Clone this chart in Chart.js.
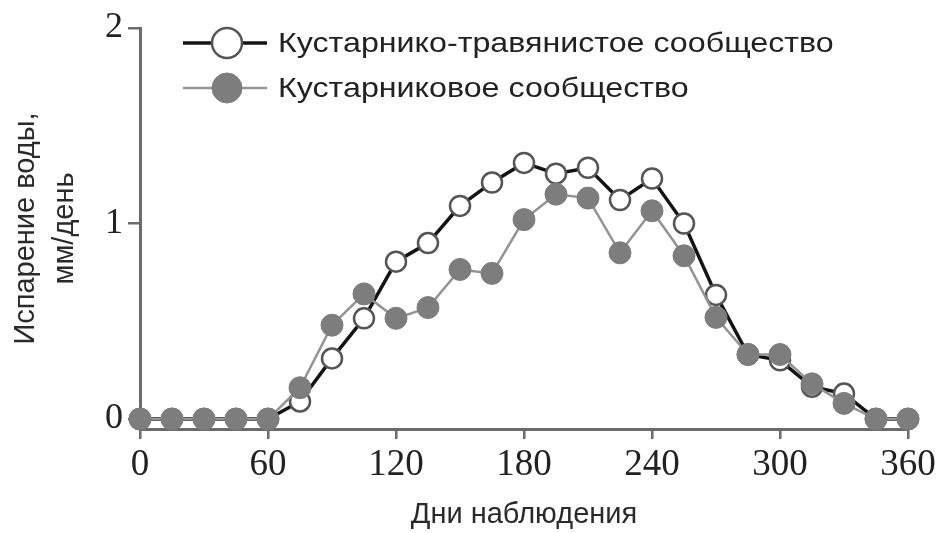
<!DOCTYPE html>
<html>
<head>
<meta charset="utf-8">
<script src="https://cdn.jsdelivr.net/npm/chart.js@4.4.1/dist/chart.umd.min.js"></script>
<style>
  html, body { margin: 0; padding: 0; background: #ffffff; }
  #wrap { width: 946px; height: 533px; position: relative; }
</style>
</head>
<body>
<div id="wrap"><canvas id="c" width="946" height="533"></canvas></div>
<script>
// ---- data ----
const days = [0, 15, 30, 45, 60, 75, 90, 105, 120, 135, 150, 165, 180, 195, 210, 225, 240, 255, 270, 285, 300, 315, 330, 345, 360];
const shrubGrassCommunity = [0, 0, 0, 0, 0, 0.09, 0.31, 0.515, 0.805, 0.90, 1.09, 1.21, 1.31, 1.255, 1.285, 1.12, 1.23, 1.0, 0.635, 0.33, 0.30, 0.165, 0.13, 0, 0];
const shrubCommunity = [0, 0, 0, 0, 0, 0.16, 0.48, 0.64, 0.515, 0.57, 0.765, 0.745, 1.02, 1.15, 1.13, 0.85, 1.065, 0.835, 0.52, 0.33, 0.33, 0.18, 0.08, 0, 0];
const seriesNames = ['Кустарнико-травянистое сообщество', 'Кустарниковое сообщество'];
const xTicks = [0, 60, 120, 180, 240, 300, 360];
const yTicks = [0, 1, 2];
const xTitle = 'Дни наблюдения';
const yTitle = ['Испарение воды,', 'мм/день'];

const AXIS = '#6b6b6b';
const SERIF = "'Liberation Serif', 'Times New Roman', serif";
const SANS = "'Liberation Sans', Arial, sans-serif";

const legendPlugin = {
  id: 'insideLegend',
  afterDraw(chart) {
    const ctx = chart.ctx;
    const a = chart.chartArea;
    const items = [chart.data.datasets[1], chart.data.datasets[0]]; // legend order: black first
    const x0 = a.left + 43, x1 = a.left + 127, cx = a.left + 87;
    const rows = [a.top + 15, a.top + 60];
    ctx.save();
    items.forEach((ds, i) => {
      const y = rows[i];
      ctx.strokeStyle = ds.borderColor;
      ctx.lineWidth = ds.borderWidth;
      ctx.beginPath(); ctx.moveTo(x0, y); ctx.lineTo(x1, y); ctx.stroke();
      ctx.beginPath(); ctx.arc(cx, y, 15, 0, Math.PI * 2);
      ctx.fillStyle = ds.pointBackgroundColor; ctx.fill();
      ctx.lineWidth = ds.pointBorderWidth; ctx.strokeStyle = ds.pointBorderColor; ctx.stroke();
      ctx.save();
      ctx.translate(a.left + 138, y + 1);
      ctx.scale(1.15, 1);
      ctx.fillStyle = '#222';
      ctx.font = '28px ' + SANS;
      ctx.textBaseline = 'middle';
      ctx.textAlign = 'left';
      ctx.fillText(ds.label, 0, 0);
      ctx.restore();
    });
    ctx.restore();
  }
};

new Chart(document.getElementById('c'), {
  type: 'line',
  data: {
    labels: days,
    datasets: [
      {
        label: seriesNames[1],
        data: days.map((d, i) => ({ x: d, y: shrubCommunity[i] })),
        borderColor: '#939393',
        borderWidth: 2.5,
        pointRadius: 11,
        pointBackgroundColor: '#7d7d7d',
        pointBorderColor: '#7d7d7d',
        pointBorderWidth: 1,
        order: 0,
        clip: false
      },
      {
        label: seriesNames[0],
        data: days.map((d, i) => ({ x: d, y: shrubGrassCommunity[i] })),
        borderColor: '#141414',
        borderWidth: 3.5,
        pointRadius: 10,
        pointBackgroundColor: '#ffffff',
        pointBorderColor: '#555555',
        pointBorderWidth: 2.5,
        order: 1,
        clip: false
      }
    ]
  },
  options: {
    responsive: false,
    animation: false,
    events: [],
    layout: { padding: { top: 28, right: 38, bottom: 0, left: 0 } },
    plugins: { legend: { display: false }, tooltip: { enabled: false } },
    scales: {
      x: {
        type: 'linear',
        min: 0, max: 360,
        afterBuildTicks(s) { s.ticks = xTicks.map(v => ({ value: v })); },
        afterFit(s) { s.height = 104; },
        grid: { drawOnChartArea: false, drawTicks: true, tickLength: 10, color: AXIS, lineWidth: 2.5 },
        border: { color: AXIS, width: 3 },
        ticks: { color: '#222', font: { family: SERIF, size: 37 }, padding: 4, maxRotation: 0 },
        title: { display: true, text: xTitle, color: '#2a2a2a', font: { family: SANS, size: 29, lineHeight: 1.2 }, padding: { top: 0, bottom: 1 } }
      },
      y: {
        type: 'linear',
        min: -0.051, max: 2,
        afterBuildTicks(s) { s.ticks = yTicks.map(v => ({ value: v })); },
        afterFit(s) { s.width = 140; },
        grid: { drawOnChartArea: false, drawTicks: true, tickLength: 12, color: AXIS, lineWidth: 2.5 },
        border: { color: AXIS, width: 3 },
        ticks: { color: '#222', font: { family: SERIF, size: 36 }, padding: 5 },
        title: { display: true, text: yTitle, color: '#2a2a2a', font: { family: SANS, size: 29, lineHeight: 1.345 }, padding: { top: 6, bottom: 0 } }
      }
    }
  },
  plugins: [legendPlugin]
});
</script>
</body>
</html>
